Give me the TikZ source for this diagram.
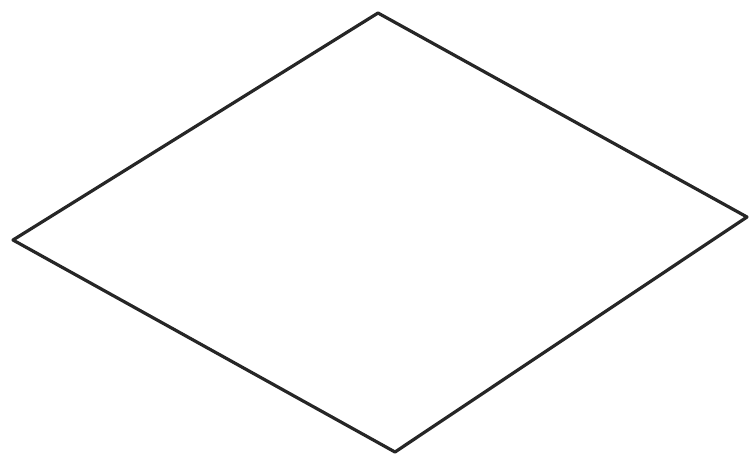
\documentclass[tikz,border=0pt]{standalone}
\usepackage{tikz}
\usetikzlibrary{calc}

\begin{document}
\begin{tikzpicture}[x=1pt, y=-1pt, line join=round]
  \useasboundingbox (0,0) rectangle (751,458);
  % corners of the rhombus
  \coordinate (top) at (378,13);
  \coordinate (right) at (747,217);
  \coordinate (bottom) at (395,452);
  \coordinate (left) at (13,240);
  \draw[line width=3.2pt, black!85] (top) -- (right) -- (bottom) -- (left) -- cycle;
\end{tikzpicture}
\end{document}
